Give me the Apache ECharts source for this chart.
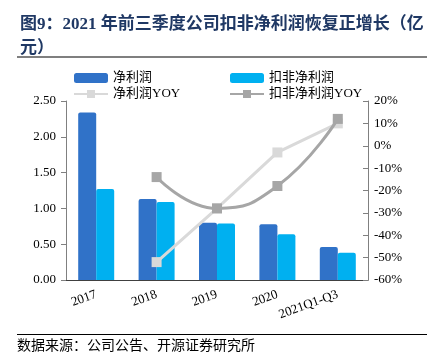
<!DOCTYPE html>
<html><head><meta charset="utf-8">
<script src="https://cdn.jsdelivr.net/npm/echarts@6/dist/echarts.min.js"></script>
<style>html,body{margin:0;padding:0;background:#fff;}#c{width:436px;height:358px;}</style>
</head><body><div id="c"></div>
<script>
const categories = ['2017','2018','2019','2020','2021Q1-Q3'];
const netProfit = [2.34, 1.13, 0.80, 0.78, 0.46];
const deductedProfit = [1.27, 1.09, 0.79, 0.64, 0.38];
const netYoy = [null, -52, -28, -3, 10];
const deductedYoy = [null, -14, -28, -18, 12];
const leftTicks = {min: 0, max: 2.5, interval: 0.5};
const rightTicks = {min: -60, max: 20, interval: 10};

const FONT = "'Liberation Serif','Times New Roman','Noto Sans CJK SC',serif";
const chart = echarts.init(document.getElementById('c'));
const legendText = {fontFamily: FONT, fontSize: 13, color: '#000', lineHeight: 14};
chart.setOption({
  animation: false,
  title: {
    text: '图9：2021 年前三季度公司扣非净利润恢复正增长（亿\n元）',
    left: 15, top: 8,
    textStyle: {fontFamily: FONT, fontWeight: 'bold', fontSize: 17, color: '#1F3864', lineHeight: 24}
  },
  graphic: [
    {type: 'rect', shape: {x: 17, y: 56, width: 410, height: 2}, style: {fill: '#7F7F7F'}},
    {type: 'rect', shape: {x: 17, y: 334, width: 410, height: 1}, style: {fill: '#000'}},
    {type: 'text', left: 17, top: 339, style: {text: '数据来源：公司公告、开源证券研究所', fontFamily: FONT, fontSize: 14, fill: '#000'}}
  ],
  legend: [
    {left: 73, top: 71, padding: 0, orient: 'vertical', itemWidth: 34, itemHeight: 10, itemGap: 2,
     textStyle: legendText, data: ['净利润', '净利润YOY']},
    {left: 229, top: 71, padding: 0, orient: 'vertical', itemWidth: 34, itemHeight: 10, itemGap: 2,
     textStyle: legendText, data: ['扣非净利润', '扣非净利润YOY']}
  ],
  grid: {left: 66, right: 68, top: 101, bottom: 78},
  xAxis: {
    type: 'category', data: categories,
    axisLine: {lineStyle: {color: '#404040'}},
    axisTick: {inside: true, alignWithLabel: false, lineStyle: {color: '#404040'}},
    axisLabel: {rotate: 20, fontFamily: FONT, fontSize: 13, color: '#000', margin: 14}
  },
  yAxis: [
    {type: 'value', min: leftTicks.min, max: leftTicks.max, interval: leftTicks.interval,
     splitLine: {show: false},
     axisLine: {show: true, lineStyle: {color: '#808080'}},
     axisTick: {show: true, lineStyle: {color: '#808080'}},
     axisLabel: {fontFamily: FONT, fontSize: 13, color: '#000', margin: 10, formatter: v => v.toFixed(2)}},
    {type: 'value', min: rightTicks.min, max: rightTicks.max, interval: rightTicks.interval,
     splitLine: {show: false},
     axisLine: {show: true, lineStyle: {color: '#808080'}},
     axisTick: {show: true, inside: true, lineStyle: {color: '#808080'}},
     axisLabel: {fontFamily: FONT, fontSize: 13, color: '#000', margin: 6, formatter: '{value}%'}}
  ],
  series: [
    {name: '净利润', type: 'bar', data: netProfit, barWidth: 18, barGap: '0%',
     itemStyle: {color: '#3072C8', borderRadius: [2,2,0,0]}},
    {name: '扣非净利润', type: 'bar', data: deductedProfit, barWidth: 18, barGap: '0%',
     itemStyle: {color: '#00B0F0', borderRadius: [2,2,0,0]}},
    {name: '净利润YOY', type: 'line', yAxisIndex: 1, data: netYoy,
     symbol: 'rect', symbolSize: 10, lineStyle: {color: '#D9D9D9', width: 3},
     itemStyle: {color: '#D9D9D9'}, z: 3},
    {name: '扣非净利润YOY', type: 'line', yAxisIndex: 1, data: deductedYoy, smooth: true,
     symbol: 'rect', symbolSize: 10, lineStyle: {color: '#A6A6A6', width: 3},
     itemStyle: {color: '#A6A6A6'}, z: 4}
  ]
});
</script></body></html>
